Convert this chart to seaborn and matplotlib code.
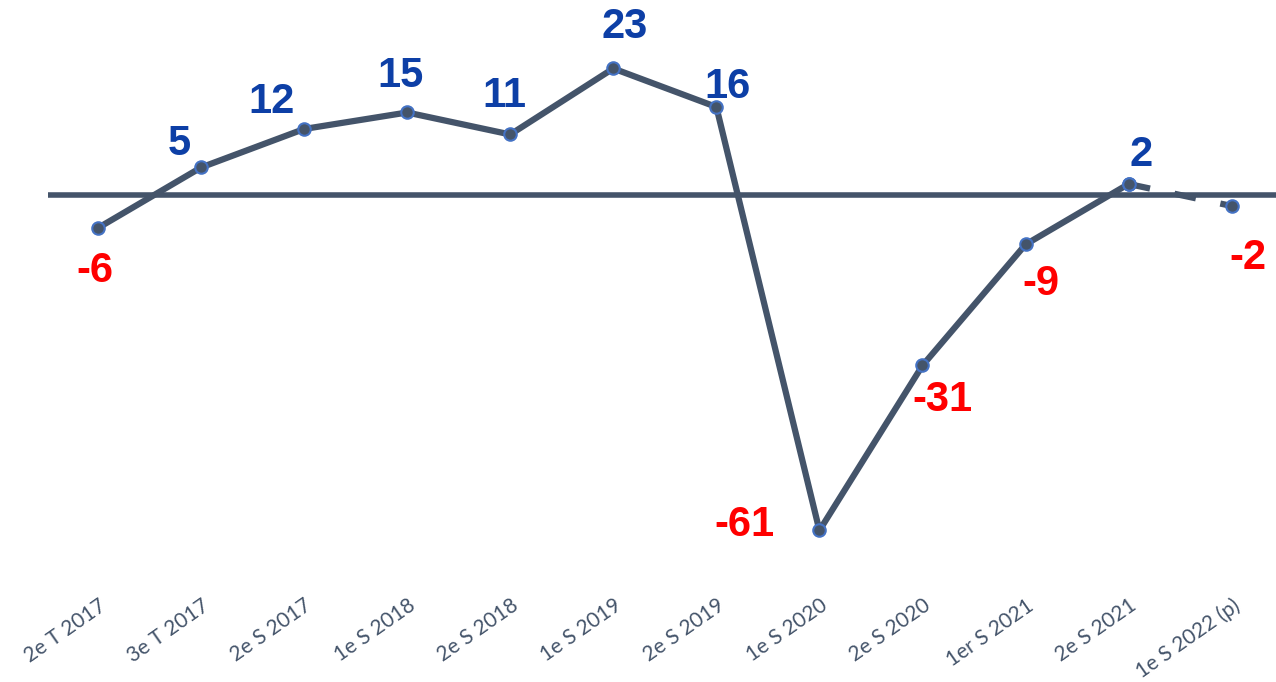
import numpy as np
import pandas as pd
import matplotlib
matplotlib.use("Agg")
import matplotlib.pyplot as plt
import seaborn as sns

# data
periodes = ["2e T 2017", "3e T 2017", "2e S 2017", "1e S 2018", "2e S 2018",
            "1e S 2019", "2e S 2019", "1e S 2020", "2e S 2020", "1er S 2021",
            "2e S 2021", "1e S 2022 (p)"]
valeurs = [-6, 5, 12, 15, 11, 23, 16, -61, -31, -9, 2, -2]

# label offsets in pixels (dx, dy) from each point
label_offsets = [(-3, -43), (-22, 23), (-33, 27), (-7, 36), (-6, 38), (11, 41),
                 (11, 20), (-75, 5), (20, -35), (15, -40), (12, 29), (16, -52)]

line_col = "#44546A"
edge_col = "#4472C4"
pos_col = "#0D3FA6"
neg_col = "#FF0000"

df = pd.DataFrame({"periode": periodes, "valeur": valeurs})
df["pos"] = np.arange(len(df))

sns.set_style("white")
plt.rcParams["font.family"] = ["Liberation Sans", "DejaVu Sans"]

fig = plt.figure(figsize=(12.76, 6.82), dpi=100)
ax = fig.add_axes([48 / 1276, (682 - 580) / 682, 1 - 48 / 1276, 580 / 682])

ax.axhline(0, color=line_col, lw=4, zorder=1)

line_kw = dict(x="pos", y="valeur", color=line_col, lw=4.5, marker="o",
               markersize=9, markeredgecolor=edge_col, markeredgewidth=1.5,
               ax=ax, zorder=3)
sns.lineplot(data=df.iloc[:-1], **line_kw)
sns.lineplot(data=df.iloc[-2:], linestyle=(0, (3.5, 4)), **line_kw)

for (i, row), (dx, dy) in zip(df.iterrows(), label_offsets):
    ax.annotate(f"{row['valeur']:d}", (row["pos"], row["valeur"]),
                xytext=(dx, dy), textcoords="offset pixels",
                ha="center", va="center", fontsize=30, fontweight="bold",
                color=pos_col if row["valeur"] >= 0 else neg_col)

ax.set_xlim(-0.485, 11.43)
ax.set_ylim(-70, 35.45)
ax.set_xticks(df["pos"])
ax.set_xticklabels(df["periode"], rotation=35, ha="right",
                   rotation_mode="anchor", fontsize=15, color=line_col,
                   family=["Lato", "DejaVu Sans"])
ax.tick_params(axis="x", length=0, pad=11)
ax.set_yticks([])
ax.set_xlabel("")
ax.set_ylabel("")
sns.despine(ax=ax, left=True, bottom=True)

fig.savefig("out.png", dpi=100)
